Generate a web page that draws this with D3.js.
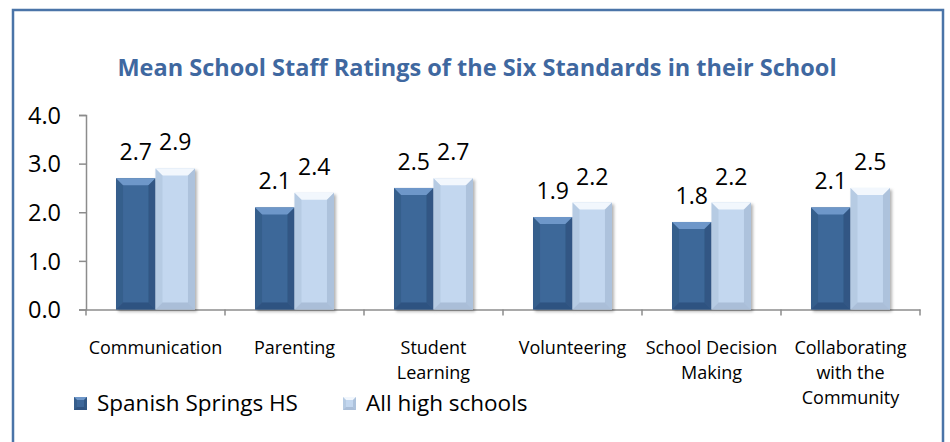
<!DOCTYPE html>
<html>
<head>
<meta charset="utf-8">
<script src="https://cdn.jsdelivr.net/npm/d3@7"></script>
<style>
  body { margin: 0; background: #fff; }
  text { font-family: "Open Sans", sans-serif; }
</style>
</head>
<body>
<div id="my_dataviz"></div>
<script>
// chart data
var categories = ["Communication", "Parenting", "Student Learning", "Volunteering", "School Decision Making", "Collaborating with the Community"];
var categoryLines = [["Communication"], ["Parenting"], ["Student", "Learning"], ["Volunteering"], ["School Decision", "Making"], ["Collaborating", "with the", "Community"]];
var seriesNames = ["Spanish Springs HS", "All high schools"];
var springsValues = [2.7, 2.1, 2.5, 1.9, 1.8, 2.1];
var allSchoolsValues = [2.9, 2.4, 2.7, 2.2, 2.2, 2.5];
var yTicks = [0, 1, 2, 3, 4];

var W = 950, H = 442;

// set the dimensions of the plot area
var margin = {top: 115, left: 86, right: 30},
    plotW = 920 - margin.left,
    plotH = 309.5 - margin.top;

var svg = d3.select("#my_dataviz")
  .append("svg")
    .attr("width", W)
    .attr("height", H);

var defs = svg.append("defs");
var colors = ["#3d6799", "#c3d7ef"];
var lights = ["#6e97c9", "#f2f7fd"];
var darks = ["#2a4c76", "#9fb4cf"];

// drop shadow
var f = defs.append("filter").attr("id", "shadow").attr("x", "-20%").attr("y", "-20%").attr("width", "150%").attr("height", "150%");
f.append("feDropShadow").attr("dx", 2).attr("dy", 2).attr("stdDeviation", 1.5).attr("flood-color", "#000").attr("flood-opacity", 0.3);

// frame
svg.append("path")
  .attr("d", "M13," + H + " V10 H943 V" + H)
  .attr("fill", "none")
  .attr("stroke", "#4a74a8")
  .attr("stroke-width", 2.5);

// title
svg.append("text")
  .attr("x", 477)
  .attr("y", 76)
  .attr("text-anchor", "middle")
  .style("font-size", "23.5px")
  .style("font-weight", "bold")
  .style("fill", "#3f68a0")
  .text("Mean School Staff Ratings of the Six Standards in their School");

var g = svg.append("g")
  .attr("transform", "translate(" + margin.left + "," + margin.top + ")");

// scales
var x = d3.scaleBand()
  .domain(categories)
  .range([0, plotW])
  .padding(0);

var x1 = d3.scaleBand()
  .domain(seriesNames)
  .range([0, x.bandwidth()])
  .paddingInner(0)
  .paddingOuter(0.76);

var y = d3.scaleLinear()
  .domain([0, 4])
  .range([plotH, 0]);

// Y axis
var yAxis = g.append("g")
  .call(d3.axisLeft(y).tickValues(yTicks).tickSize(7).tickPadding(18).tickFormat(d3.format(".1f")));
yAxis.select(".domain").attr("stroke", "#8c8c8c").attr("stroke-width", 1.5);
yAxis.selectAll(".tick line").attr("stroke", "#8c8c8c").attr("stroke-width", 1.5);
yAxis.selectAll(".tick text").style("font-size", "23.5px").style("fill", "#000").attr("dy", "0.35em");

// X axis
var xAxis = g.append("g")
  .attr("transform", "translate(0," + plotH + ")")
  .call(d3.axisBottom(x).tickSize(0).tickFormat(""));
xAxis.select(".domain").attr("stroke", "#8c8c8c").attr("stroke-width", 1.5);
xAxis.selectAll(".tick").remove();
var bounds = categories.map(function(c) { return x(c); }).concat([plotW]);
xAxis.selectAll("line.bt")
  .data(bounds)
  .enter().append("line")
    .attr("x1", function(d) { return d; })
    .attr("x2", function(d) { return d; })
    .attr("y1", 0)
    .attr("y2", 6)
    .attr("stroke", "#8c8c8c")
    .attr("stroke-width", 1.5);

// category labels
var catLabels = g.append("g").selectAll("text")
  .data(categories)
  .enter().append("text")
    .attr("x", function(d) { return x(d) + x.bandwidth() / 2; })
    .attr("y", plotH + 44)
    .attr("text-anchor", "middle")
    .style("font-size", "18px");
catLabels.selectAll("tspan")
  .data(function(d, i) { return categoryLines[i]; })
  .enter().append("tspan")
    .attr("x", function() { return d3.select(this.parentNode).attr("x"); })
    .attr("dy", function(d, i) { return i === 0 ? 0 : 25; })
    .text(function(d) { return d; });

// build bar data
var rows = categories.map(function(c, i) {
  return {cat: c, vals: [springsValues[i], allSchoolsValues[i]]};
});

var bev = 7;

function bevelBar(sel, w, h, k) {
  sel.append("rect").attr("width", w).attr("height", h).attr("fill", colors[k]);
  // top bevel
  sel.append("path")
    .attr("d", "M0,0 H" + w + " L" + (w - bev) + "," + bev + " H" + bev + " Z")
    .attr("fill", lights[k]);
  // left bevel
  sel.append("path")
    .attr("d", "M0,0 L" + bev + "," + bev + " V" + (h - bev) + " L0," + h + " Z")
    .attr("fill", darks[k]).attr("opacity", 0.35);
  // right bevel
  sel.append("path")
    .attr("d", "M" + w + ",0 L" + (w - bev) + "," + bev + " V" + (h - bev) + " L" + w + "," + h + " Z")
    .attr("fill", darks[k]).attr("opacity", 0.6);
  // bottom bevel
  sel.append("path")
    .attr("d", "M0," + h + " L" + bev + "," + (h - bev) + " H" + (w - bev) + " L" + w + "," + h + " Z")
    .attr("fill", darks[k]).attr("opacity", 0.7);
}

var groups = g.append("g").selectAll("g")
  .data(rows)
  .enter().append("g")
    .attr("transform", function(d) { return "translate(" + x(d.cat) + ",0)"; });

groups.selectAll("g.bar")
  .data(function(d) { return d.vals.map(function(v, k) { return {v: v, k: k}; }); })
  .enter().append("g")
    .attr("class", "bar")
    .attr("filter", "url(#shadow)")
    .attr("transform", function(d) { return "translate(" + x1(seriesNames[d.k]) + "," + y(d.v) + ")"; })
    .each(function(d) {
      bevelBar(d3.select(this), x1.bandwidth(), plotH - y(d.v), d.k);
    });

// value labels
groups.selectAll("text.val")
  .data(function(d) { return d.vals.map(function(v, k) { return {v: v, k: k}; }); })
  .enter().append("text")
    .attr("class", "val")
    .attr("x", function(d) { return x1(seriesNames[d.k]) + x1.bandwidth() / 2; })
    .attr("y", function(d) { return y(d.v) - 18; })
    .attr("text-anchor", "middle")
    .style("font-size", "23px")
    .text(function(d) { return d3.format(".1f")(d.v); });

// legend
var legend = svg.append("g")
  .selectAll("g")
  .data(seriesNames)
  .enter().append("g")
    .attr("transform", function(d, i) { return "translate(" + (74 + i * 269) + ",397)"; });

legend.append("g")
  .each(function(d, i) {
    var s = d3.select(this);
    var w = 13, b = 3;
    s.append("rect").attr("width", w).attr("height", w).attr("fill", colors[i]);
    s.append("path").attr("d", "M0,0 H" + w + " L" + (w - b) + "," + b + " H" + b + " Z").attr("fill", lights[i]);
    s.append("path").attr("d", "M0,0 L" + b + "," + b + " V" + (w - b) + " L0," + w + " Z").attr("fill", darks[i]).attr("opacity", 0.35);
    s.append("path").attr("d", "M" + w + ",0 L" + (w - b) + "," + b + " V" + (w - b) + " L" + w + "," + w + " Z").attr("fill", darks[i]).attr("opacity", 0.6);
    s.append("path").attr("d", "M0," + w + " L" + b + "," + (w - b) + " H" + (w - b) + " L" + w + "," + w + " Z").attr("fill", darks[i]).attr("opacity", 0.7);
  });

legend.append("text")
  .attr("x", 23)
  .attr("y", 14)
  .style("font-size", "22.5px")
  .text(function(d) { return d; });
</script>
</body>
</html>
